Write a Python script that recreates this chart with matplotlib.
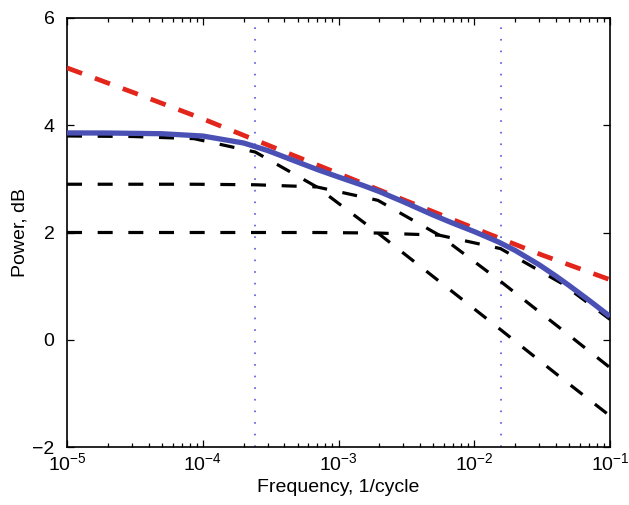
import matplotlib
matplotlib.use("Agg")
import matplotlib.pyplot as plt
from matplotlib.ticker import LogLocator, FixedLocator

plt.rcParams['font.family'] = ['Liberation Sans', 'DejaVu Sans']
plt.rcParams['font.size'] = 14

# Coarse frequency grid of the component curves (1/cycle)
f_comp = [1e-5, 3.05e-5, 8.63e-5, 2.44e-4, 6.91e-4, 1.95e-3, 5.52e-3, 1.56e-2, 4.42e-2, 1e-1]
comp_a = [3.80, 3.79, 3.75, 3.50, 2.85, 1.99, 1.09, 0.19, -0.72, -1.42]
comp_b = [2.90, 2.90, 2.90, 2.89, 2.85, 2.60, 1.95, 1.09, 0.19, -0.52]
comp_c = [2.00, 2.00, 2.00, 2.00, 2.00, 1.99, 1.95, 1.70, 1.05, 0.38]

# Total (sum) curve
f_total = [1e-5, 2e-5, 5e-5, 1e-4, 2e-4, 3e-4, 5e-4, 7e-4, 1e-3, 1.5e-3, 2e-3,
           3e-3, 5e-3, 7e-3, 1e-2, 1.5e-2, 2e-2, 3e-2, 4e-2, 5e-2, 7e-2, 1e-1]
total = [3.857, 3.855, 3.842, 3.799, 3.669, 3.530, 3.314, 3.173, 3.035, 2.882,
         2.763, 2.574, 2.324, 2.171, 2.017, 1.826, 1.666, 1.400, 1.187, 1.011,
         0.736, 0.435]

# Target spectrum (red dashed)
f_target = [1e-5, 3.16e-5, 1e-4, 3.16e-4, 1e-3, 3.16e-3, 1e-2, 3.16e-2, 1e-1]
target = [5.07, 4.60, 4.12, 3.61, 3.10, 2.59, 2.08, 1.58, 1.12]

# Vertical marker frequencies
f_marks = [2.44e-4, 1.5625e-2]

x_ticks = [1e-5, 1e-4, 1e-3, 1e-2, 1e-1]
y_ticks = [-2, 0, 2, 4, 6]

fig = plt.figure(figsize=(6.29, 5.05), dpi=100)
ax = fig.add_axes([67/629, 1-447/505, (610-67)/629, (447-18)/505])

for fm in f_marks:
    ax.axvline(fm, color='#4848dc', lw=1.1, linestyle=(0, (1.1, 6.5)), zorder=1)

for comp in (comp_a, comp_b, comp_c):
    ax.plot(f_comp, comp, color='black', lw=2.3, linestyle=(0, (4.7, 4.9)),
            dash_capstyle='butt', zorder=2)

ax.plot(f_target, target, color='#e3261c', lw=3.4, linestyle=(0, (3.4, 2.9)),
        dash_capstyle='butt', zorder=3)
ax.plot(f_total, total, color='#4a50b4', lw=3.8, solid_capstyle='butt', zorder=4)

ax.set_xscale('log')
ax.set_xlim(1e-5, 1e-1)
ax.set_ylim(-2, 6)
ax.xaxis.set_major_locator(FixedLocator(x_ticks))
ax.xaxis.set_minor_locator(LogLocator(base=10, subs=range(2, 10), numticks=20))
ax.yaxis.set_major_locator(FixedLocator(y_ticks))

ax.tick_params(which='both', direction='in', top=True, right=True, width=0.9)
ax.tick_params(which='major', length=5, labelsize=14)
ax.tick_params(axis='x', which='major', pad=4)
ax.tick_params(axis='y', which='major', pad=9)
ax.tick_params(which='minor', length=3)
for s in ax.spines.values():
    s.set_linewidth(1.2)

ax.set_xlabel('Frequency, 1/cycle', fontsize=14, labelpad=3)
ax.set_ylabel('Power, dB', fontsize=14, labelpad=3)

fig.savefig('out.png', dpi=100)
